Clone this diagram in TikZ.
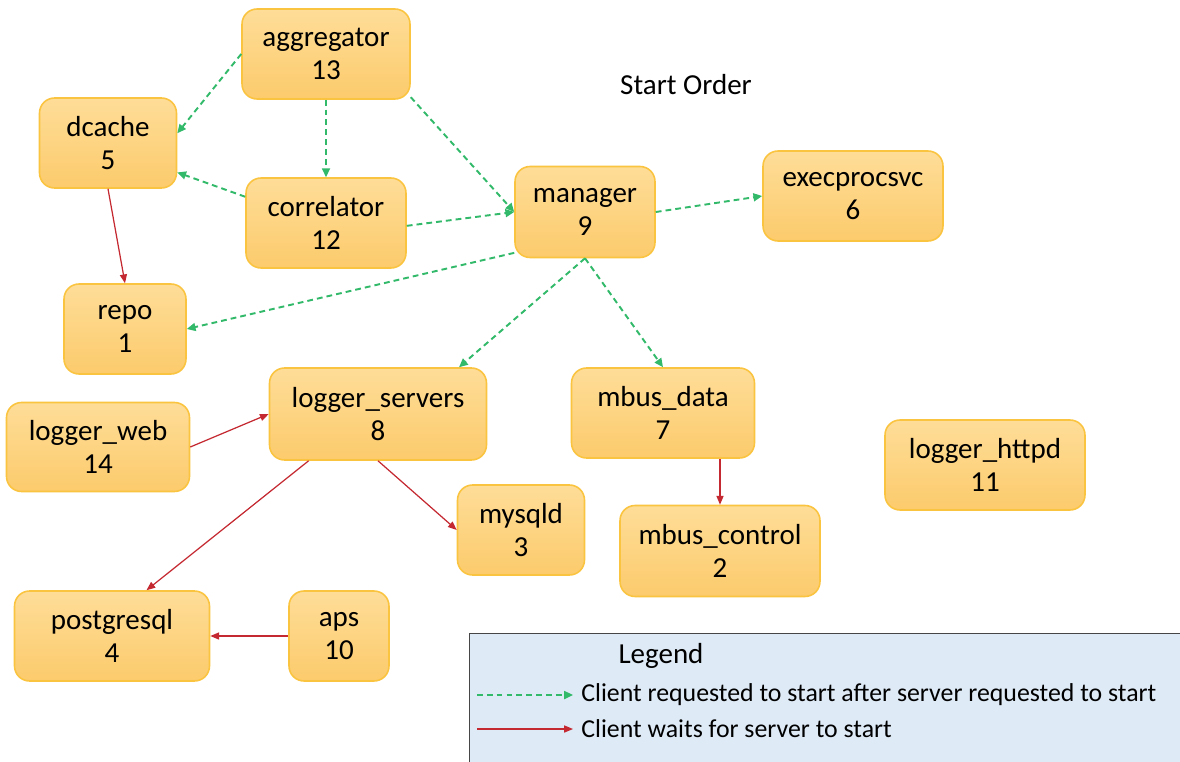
\documentclass[tikz,border=0pt]{standalone}
\usepackage{fontspec}
\setmainfont{Carlito}
\usetikzlibrary{arrows.meta}
\definecolor{boxtop}{RGB}{254,221,152}
\definecolor{boxbot}{RGB}{252,203,108}
\definecolor{boxline}{RGB}{250,196,64}
\definecolor{greenarr}{RGB}{50,185,105}
\definecolor{redarr}{RGB}{196,40,48}
\definecolor{legfill}{RGB}{222,234,246}
\definecolor{legline}{RGB}{70,70,70}
\tikzset{
  nb/.style={rectangle, rounded corners=0.3cm, top color=boxtop, bottom color=boxbot,
    draw=boxline, line width=0.9pt, minimum height=1.8cm, align=center,
    font=\fontsize{16.5}{19}\selectfont, inner sep=0pt},
  req/.style={greenarr, line width=1.1pt, dash pattern=on 3.3pt off 2.3pt,
    -{Triangle[length=5pt,width=4.5pt]}},
  wait/.style={redarr, line width=0.7pt, -{Triangle[length=5pt,width=4pt]}},
  lbl/.style={font=\fontsize{14.7}{17}\selectfont, inner sep=0pt}
}
\begin{document}
\begin{tikzpicture}[x=0.02cm, y=-0.02cm]
\useasboundingbox (0,0) rectangle (1180,761);
% legend box
\node[draw=legline, fill=legfill, line width=0.8pt, rectangle, inner sep=0pt,
  minimum width=14.6cm, minimum height=2.8cm, anchor=north west] (legend) at (469,633) {};
\node[lbl, font=\fontsize{16.5}{19}\selectfont] (legtitle) at (661,656) {Legend};
\coordinate (l1a) at (477,695); \coordinate (l1b) at (573,695);
\coordinate (l2a) at (477,729); \coordinate (l2b) at (573,729);
\draw[req] (l1a) -- (l1b);
\draw[wait] (l2a) -- (l2b);
\node[lbl, anchor=west] (leg1) at (581,695) {Client requested to start after server requested to start};
\node[lbl, anchor=west] (leg2) at (581,729) {Client waits for server to start};
\node[lbl, font=\fontsize{16.5}{19}\selectfont] (title) at (686,85) {Start Order};
% nodes
\node[nb, minimum width=3.36cm] (agg) at (326,54) {aggregator\\13};
\node[nb, minimum width=2.74cm] (dc) at (108,143) {dcache\\5};
\node[nb, minimum width=3.2cm] (cor) at (326,223) {correlator\\12};
\node[nb, minimum width=2.8cm, minimum height=1.82cm] (man) at (585,212) {manager\\9};
\node[nb, minimum width=3.6cm] (exe) at (853,196) {execprocsvc\\6};
\node[nb, minimum width=2.44cm] (repo) at (125,329) {repo\\1};
\node[nb, minimum width=4.34cm, minimum height=1.84cm] (ls) at (378,414) {logger\_servers\\8};
\node[nb, minimum width=3.66cm] (md) at (663,413) {mbus\_data\\7};
\node[nb, minimum width=3.66cm, minimum height=1.78cm] (lw) at (98,447) {logger\_web\\14};
\node[nb, minimum width=4.0cm] (lh) at (985,465) {logger\_httpd\\11};
\node[nb, minimum width=2.54cm] (my) at (521,530) {mysqld\\3};
\node[nb, minimum width=4.0cm, minimum height=1.82cm] (mc) at (720,551) {mbus\_control\\2};
\node[nb, minimum width=3.9cm] (pg) at (112,636) {postgresql\\4};
\node[nb, minimum width=2.0cm] (aps) at (339,636) {aps\\10};
% requested-start connectors
\draw[req] (agg.west) -- (dc.8);
\draw[req] (agg.south) -- (cor.north);
\draw[req] (agg.-27) -- (man.west);
\draw[req] (cor.162) -- (dc.-23);
\draw[req] (cor.-2) -- (man.west);
\draw[req] (man.east) -- (exe.west);
\draw[req] (man.210) -- (repo.east);
\draw[req] (man.south) -- (ls.30);
\draw[req] (man.south) -- (md.north);
% wait connectors
\draw[wait] (dc.south) -- (repo.north);
\draw[wait] (lw.east) -- (ls.west);
\draw[wait] (ls.south) -- (my.west);
\draw[wait] (ls.214) -- (pg.53);
\draw[wait] (mc.north |- md.south) -- (mc.north);
\draw[wait] (aps.west) -- (pg.east);
\end{tikzpicture}
\end{document}
